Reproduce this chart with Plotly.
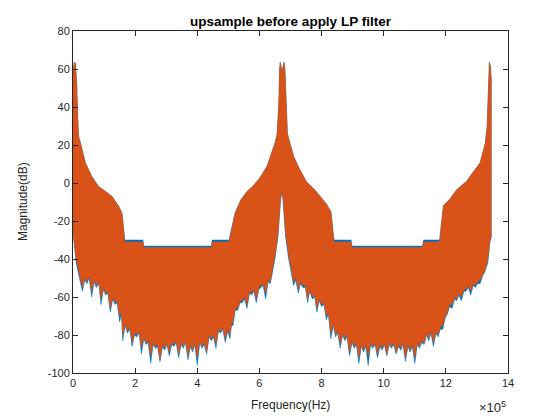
import plotly.graph_objects as go

# upper edge of the spectrum, frequency in units of 1e5 Hz
top_freq = [0.0, 0.04, 0.08, 0.12, 0.15, 0.18, 0.24, 0.4, 0.6, 0.82, 1.04, 1.25, 1.47, 1.58, 1.63, 1.67,
            2.25, 2.28, 4.45, 4.48, 5.02, 5.1, 5.22, 5.4, 5.6, 5.8, 6.03, 6.25, 6.43, 6.52, 6.57, 6.62,
            6.65, 6.67, 6.7, 6.73, 6.76, 6.79, 6.82, 6.86, 6.9, 6.98, 7.1, 7.3, 7.52, 7.8, 7.95, 8.15,
            8.3, 8.36, 8.4, 8.95, 8.98, 11.25, 11.28, 11.8, 11.86, 11.92, 12.13, 12.35, 12.68, 12.78,
            13.1, 13.27, 13.33, 13.37, 13.4, 13.43, 13.46]
top_orange = [58, 63.5, 63, 52, 35, 24.5, 21, 10.5, 3.5, -1.8, -4.4, -7, -12.3, -16, -24.6, -31,
              -31, -34, -34, -31, -31, -24, -15.6, -9, -4.5, -1.5, 3, 9, 18, 22, 26, 40,
              60, 63.5, 61, 59, 61, 63.5, 60, 40, 26, 21, 14, 7, 0.5, -4, -7, -11,
              -15, -24, -31, -31, -34, -34, -31, -31, -20, -12, -8.5, -3.5, 1, 3.5,
              10.5, 21, 30, 50, 63.5, 62, 55]
top_blue = [58, 63.5, 63, 52, 35, 24.5, 21, 10.5, 3.5, -1.8, -4.4, -7, -12.3, -16, -24.6, -30,
            -30, -33.2, -33.2, -30, -30, -24, -15.6, -9, -4.5, -1.5, 3, 9, 18, 22, 26, 40,
            60, 63.5, 61, 59, 61, 63.5, 60, 40, 26, 21, 14, 7, 0.5, -4, -7, -11,
            -15, -24, -30, -30, -33.2, -33.2, -30, -30, -20, -12, -8.5, -3.5, 1, 3.5,
            10.5, 21, 30, 50, 63.5, 62, 55]

# lower edge of the spectrum
bot_freq = [0.0, 0.1, 0.2, 0.3, 0.38, 0.45, 0.52, 0.6, 0.68, 0.75, 0.83, 0.9, 0.98, 1.05, 1.12, 1.2,
            1.28, 1.35, 1.42, 1.5, 1.56, 1.6, 1.68, 1.75, 1.83, 1.9, 1.98, 2.05, 2.13, 2.2, 2.28,
            2.35, 2.42, 2.5, 2.58, 2.65, 2.72, 2.8, 2.88, 2.95, 3.02, 3.1, 3.18, 3.25, 3.32, 3.4,
            3.48, 3.55, 3.62, 3.7, 3.78, 3.85, 3.92, 4.0, 4.08, 4.15, 4.22, 4.3, 4.38, 4.45, 4.52,
            4.6, 4.68, 4.75, 4.82, 4.9, 4.98, 5.05, 5.1, 5.15, 5.22, 5.3, 5.38, 5.45, 5.52, 5.6,
            5.68, 5.75, 5.82, 5.9, 5.98, 6.05, 6.12, 6.2, 6.28, 6.35, 6.5, 6.6, 6.68,
            6.72, 6.76, 6.84, 6.94, 7.1, 7.17, 7.25, 7.32, 7.4, 7.48, 7.55, 7.62, 7.7, 7.78, 7.85,
            7.92, 8.0, 8.08, 8.15, 8.22, 8.3, 8.38, 8.45, 8.52, 8.6, 8.68, 8.75, 8.82, 8.9, 8.98,
            9.05, 9.12, 9.2, 9.28, 9.35, 9.42, 9.5, 9.58, 9.65, 9.72, 9.8, 9.88, 9.95, 10.02,
            10.1, 10.18, 10.25, 10.32, 10.4, 10.48, 10.55, 10.62, 10.7, 10.78, 10.85, 10.92,
            11.0, 11.08, 11.15, 11.22, 11.3, 11.38, 11.45, 11.52, 11.6, 11.68, 11.75, 11.82,
            11.9, 11.98, 12.05, 12.12, 12.2, 12.28, 12.35, 12.42, 12.5, 12.58, 12.65, 12.72,
            12.8, 12.88, 12.95, 13.02, 13.1, 13.18, 13.25, 13.3, 13.35, 13.42, 13.46]
bot_orange = [-25, -40, -48, -55, -50, -52, -49, -57, -51, -54, -52, -61, -55, -58, -57, -66,
              -60, -63, -62, -70, -68, -80, -74, -78, -76, -84, -79, -80, -78, -87,
              -81, -84, -83, -91, -84, -86, -85, -93, -85, -87, -84, -89, -84, -85, -83, -90,
              -84, -86, -83, -91, -85, -88, -84, -92, -83, -86, -84, -89, -80, -82, -80,
              -85, -77, -78, -76, -82, -77, -80, -74, -73, -66, -66, -62, -62, -60, -64,
              -57, -58, -56, -61, -55, -54, -53, -58, -51, -52, -38, -26, -8,
              -4, -8, -26, -38, -52, -50, -56, -52, -54, -54, -61, -56, -60, -59, -66,
              -61, -64, -63, -70, -68, -79, -74, -80, -78, -85, -79, -82, -80, -89, -83,
              -86, -84, -92, -85, -88, -85, -91, -84, -86, -84, -90, -85, -87, -84,
              -90, -84, -86, -84, -89, -85, -87, -84, -92, -85, -88, -85,
              -92, -84, -86, -83, -84, -79, -82, -78, -84, -78, -80, -76,
              -75, -70, -68, -64, -64, -60, -61, -58, -60, -56, -56, -54,
              -57, -53, -54, -52, -51, -48, -46, -44, -40, -30, -28]
bot_blue = [-26, -42, -50, -57, -51, -53, -50, -60, -52, -55, -53, -64, -56, -59, -58, -68,
            -61, -64, -63, -73, -69, -83, -75, -79, -77, -86, -80, -81, -79, -90,
            -82, -85, -84, -95, -85, -87, -86, -94, -86, -88, -85, -91, -85, -86, -84, -92,
            -85, -87, -84, -93, -86, -89, -85, -96, -84, -87, -85, -90, -81, -83, -81,
            -87, -78, -79, -77, -84, -78, -82, -75, -75, -67, -67, -63, -63, -61, -66,
            -58, -59, -57, -63, -56, -55, -54, -61, -52, -53, -40, -28, -9,
            -5, -9, -28, -40, -54, -51, -58, -53, -55, -55, -63, -57, -61, -60, -68,
            -62, -65, -64, -72, -69, -82, -75, -81, -79, -87, -80, -83, -81, -91, -84,
            -87, -85, -95, -86, -89, -86, -96, -85, -87, -85, -92, -86, -88, -85,
            -91, -85, -87, -85, -90, -86, -88, -85, -94, -86, -89, -86,
            -95, -85, -87, -84, -85, -80, -83, -79, -86, -79, -81, -77,
            -77, -71, -69, -65, -66, -61, -62, -59, -62, -57, -57, -55,
            -59, -54, -55, -53, -53, -49, -47, -45, -42, -31, -29]

axis_color = '#262626'
font_family = 'Liberation Sans, Arial, sans-serif'


def band(top_vals, bot_vals, color):
    # closed polygon: along the upper edge, back along the lower edge
    xs = [f * 1e5 for f in top_freq] + [f * 1e5 for f in bot_freq[::-1]]
    ys = list(top_vals) + list(bot_vals[::-1])
    return go.Scatter(x=xs, y=ys, mode='lines', fill='toself', fillcolor=color,
                      line=dict(color=color, width=0.5), hoverinfo='skip', showlegend=False)


fig = go.Figure()
fig.add_trace(band(top_blue, bot_blue, '#0072BD'))
fig.add_trace(band(top_orange, bot_orange, '#D95319'))

# the page body has an 8px margin, so the figure is 8px smaller than the window
fig.update_layout(
    width=552, height=412,
    margin=dict(l=65, r=52, t=23, b=47),
    plot_bgcolor='white',
    paper_bgcolor='white',
    font=dict(family=font_family, size=11, color=axis_color),
    title=dict(text='<b>upsample before apply LP filter</b>', x=0.5, xref='paper', xanchor='center',
               y=1 - 13 / 412, yref='container', yanchor='middle',
               font=dict(family=font_family, size=13.5, color='black')),
)

fig.update_xaxes(
    range=[0, 14e5], tickvals=[i * 2e5 for i in range(8)], ticktext=[str(i * 2) for i in range(8)],
    showgrid=False, zeroline=False, showline=True, linecolor=axis_color, linewidth=1,
    ticks='inside', ticklen=5, tickcolor=axis_color, mirror='ticks',
)
fig.update_yaxes(
    range=[-100, 80], tickvals=list(range(-100, 81, 20)), ticktext=[str(v) for v in range(-100, 81, 20)],
    showgrid=False, zeroline=False, showline=True, linecolor=axis_color, linewidth=1,
    ticks='inside', ticklen=5, tickcolor=axis_color, mirror='ticks',
)

fig.add_annotation(text='Frequency(Hz)', x=0.5, y=-32 / 342, xref='paper', yref='paper',
                   xanchor='center', yanchor='middle', showarrow=False, font=dict(size=12))
fig.add_annotation(text='Magnitude(dB)', x=-50 / 435, y=0.5, xref='paper', yref='paper',
                   xanchor='center', yanchor='middle', textangle=-90, showarrow=False, font=dict(size=12))
fig.add_annotation(text='\u00d710<sup>5</sup>', x=1.0, y=-34 / 342, xref='paper', yref='paper',
                   xanchor='right', yanchor='middle', showarrow=False, font=dict(size=13))

fig.write_html("out.html")
